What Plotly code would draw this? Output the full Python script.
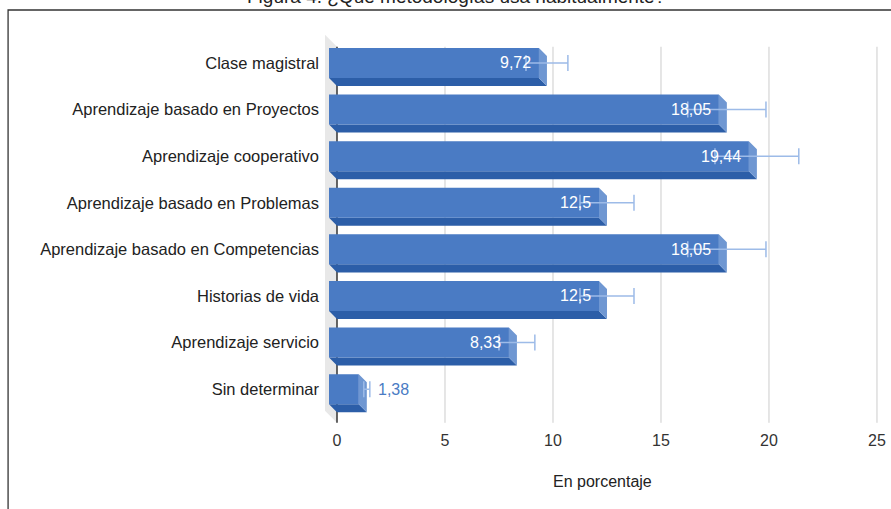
import plotly.graph_objects as go

categories = ["Clase magistral", "Aprendizaje basado en Proyectos", "Aprendizaje cooperativo",
              "Aprendizaje basado en Problemas", "Aprendizaje basado en Competencias",
              "Historias de vida", "Aprendizaje servicio", "Sin determinar"]
values = [9.72, 18.05, 19.44, 12.5, 18.05, 12.5, 8.33, 1.38]
errors = [0.97, 1.81, 1.94, 1.25, 1.81, 1.25, 0.83, 0.14]
value_labels = ["9,72", "18,05", "19,44", "12,5", "18,05", "12,5", "8,33", "1,38"]
x_ticks = [0, 5, 10, 15, 20, 25]

FRONT = "#4a7bc4"
BOTTOM = "#2c5ea8"
SIDE = "#6f97d2"
ERR = "#9dbbe8"
FONT = "Liberation Sans, Arial, sans-serif"

# 3D geometry (data units)
DX, DY = 0.37, 0.172      # bar depth offset
WX, WY = 0.556, 0.258     # wall depth offset
H = 0.322                 # half bar height
Y_TOP, Y_BOT = -0.52, 7.55

n = len(categories)
ys = list(range(n))

fig = go.Figure()

fx, fy, bx, by, sx, sy = [], [], [], [], [], []
for i, v in zip(ys, values):
    fx += [-DX, v - DX, v - DX, -DX, -DX, None]
    fy += [i - H - DY, i - H - DY, i + H - DY, i + H - DY, i - H - DY, None]
    bx += [-DX, v - DX, v, 0, -DX, None]
    by += [i + H - DY, i + H - DY, i + H, i + H, i + H - DY, None]
    sx += [v - DX, v, v, v - DX, v - DX, None]
    sy += [i - H - DY, i - H, i + H, i + H - DY, i - H - DY, None]

for xx, yy, c in [(bx, by, BOTTOM), (sx, sy, SIDE), (fx, fy, FRONT)]:
    fig.add_trace(go.Scatter(x=xx, y=yy, fill="toself", fillcolor=c, mode="lines",
                             line=dict(width=0, color=c), hoverinfo="skip", showlegend=False))

fig.add_trace(go.Scatter(
    x=values, y=[i - DY for i in ys], mode="markers", marker=dict(opacity=0, size=1),
    error_x=dict(type="data", array=errors, symmetric=True, color=ERR, thickness=1.5, width=8),
    showlegend=False, hoverinfo="skip"))

shapes = []
shapes.append(dict(type="path", xref="x", yref="y", layer="below",
                   path=f"M 0 {Y_TOP} L 0 {Y_BOT} L {-WX} {Y_BOT - WY} L {-WX} {Y_TOP - WY} Z",
                   fillcolor="#e8e8e8", line=dict(width=0)))
for t in x_ticks:
    if t == 0:
        continue
    shapes.append(dict(type="line", xref="x", yref="y", layer="below", x0=t, x1=t,
                       y0=Y_TOP, y1=Y_BOT, line=dict(color="#cccccc", width=1)))
shapes.append(dict(type="line", xref="x", yref="y", layer="below", x0=0, x1=0,
                   y0=Y_TOP, y1=Y_BOT, line=dict(color="#333333", width=1.5)))
shapes.append(dict(type="rect", xref="paper", yref="paper", x0=-0.557, x1=1.1, y0=-0.4, y1=1.0587,
                   line=dict(color="#333333", width=1.3), fillcolor="rgba(0,0,0,0)", layer="above"))

annotations = []
for i, v, lab in zip(ys, values, value_labels):
    if v >= 3:
        annotations.append(dict(x=v, y=i - DY, xref="x", yref="y", text=lab, showarrow=False,
                                xanchor="right", xshift=-14, font=dict(color="white", size=16, family=FONT)))
    else:
        annotations.append(dict(x=v, y=i - DY, xref="x", yref="y", text=lab, showarrow=False,
                                xanchor="left", xshift=9, font=dict(color=FRONT, size=16, family=FONT)))
annotations.append(dict(x=0.5, y=0, xref="paper", yref="paper", yanchor="middle", yshift=-56, xshift=2,
                        text="En porcentaje", showarrow=False, font=dict(size=16, color="#222222", family=FONT)))
annotations.append(dict(x=0.5, y=1, xref="paper", yref="paper", yanchor="middle", yshift=37, xshift=-144,
                        text="Figura 4. ¿Qué metodologías usa habitualmente?", showarrow=False,
                        font=dict(size=19, color="#222222", family=FONT)))

fig.update_layout(
    width=891, height=509,
    margin=dict(l=320, r=11, t=33, b=84, autoexpand=False),
    paper_bgcolor="white", plot_bgcolor="white",
    xaxis=dict(range=[-0.787, 25.14], tickvals=x_ticks, ticktext=[str(t) for t in x_ticks],
               showgrid=False, zeroline=False, showline=False, ticks="", automargin=False,
               ticklabelstandoff=4,
               tickfont=dict(size=16, color="#333333", family=FONT)),
    yaxis=dict(range=[7.597, -0.815], tickvals=[i - DY for i in ys], ticktext=categories,
               showgrid=False, zeroline=False, showline=False, ticks="", automargin=False,
               ticklabelstandoff=0,
               tickfont=dict(size=16.5, color="#222222", family=FONT)),
    shapes=shapes, annotations=annotations, showlegend=False,
)

fig.write_html("out.html", config={"displayModeBar": False},
               post_script="document.body.style.margin='0px';document.body.style.overflow='hidden';")
